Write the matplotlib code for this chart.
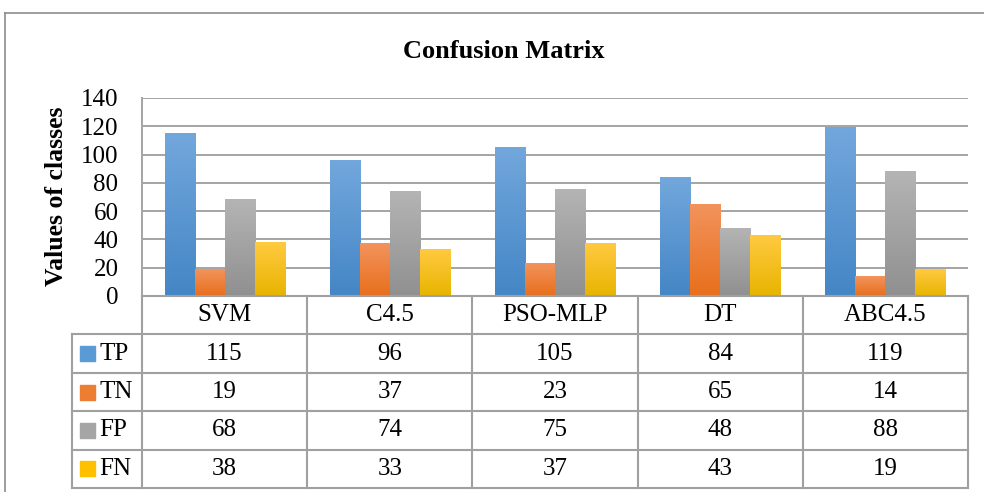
import numpy as np
import matplotlib
matplotlib.use("Agg")
import matplotlib.pyplot as plt
from matplotlib.colors import LinearSegmentedColormap
from matplotlib.patches import Rectangle
from matplotlib.lines import Line2D

# data
models = ["SVM", "C4.5", "PSO-MLP", "DT", "ABC4.5"]
series = ["TP", "TN", "FP", "FN"]
tp = [115, 96, 105, 84, 119]
tn = [19, 37, 23, 65, 14]
fp = [68, 74, 75, 48, 88]
fn = [38, 33, 37, 43, 19]
values = [tp, tn, fp, fn]
yticks = [0, 20, 40, 60, 80, 100, 120, 140]

# (top, bottom) gradient colours per series
grads = [("#72a7dc", "#4486c6"),
         ("#f2935c", "#e86f1c"),
         ("#b4b4b4", "#909090"),
         ("#ffca40", "#e8b400")]
mids = ["#5b9bd5", "#ed7d31", "#a5a5a5", "#ffc000"]

plt.rcParams["font.family"] = ["Liberation Serif", "DejaVu Serif"]

W, H = 984, 492
fig = plt.figure(figsize=(W / 100, H / 100), dpi=100)


def fy(py):
    return 1 - py / H


grid_col = "#a4a4a4"
line_col = "#a0a0a0"

# chart area
ax = fig.add_axes([142 / W, fy(296), (968 - 142) / W, (296 - 98) / H])
x = np.arange(len(models))
width = 0.1816
for i, vals in enumerate(values):
    bars = ax.bar(x + (i - 1.5) * width, vals, width, color=mids[i], zorder=2)
    cmap = LinearSegmentedColormap.from_list("g%d" % i, [grads[i][1], grads[i][0]])
    for b in bars:
        x0, h = b.get_x(), b.get_height()
        ax.imshow(np.linspace(0, 1, 100).reshape(-1, 1), cmap=cmap, origin="lower",
                  extent=[x0, x0 + b.get_width(), 0, h], aspect="auto", zorder=3)
        b.set_visible(False)

ax.set_xlim(-0.5, len(models) - 0.5)
ax.set_ylim(0, 140)
ax.set_yticks(yticks)
ax.set_xticks([])
ax.yaxis.grid(True, color=grid_col, linewidth=1.4, zorder=0)
ax.set_axisbelow(True)
for s in ["top", "right", "bottom"]:
    ax.spines[s].set_visible(False)
ax.spines["left"].set_color(grid_col)
ax.spines["left"].set_linewidth(1.4)
ax.tick_params(axis="y", length=0, pad=17, labelsize=18)

# data table below the chart
tab = fig.add_axes([142 / W, fy(488), (968 - 142) / W, (488 - 296) / H])
tab.set_xlim(-0.5, len(models) - 0.5)
tab.set_ylim(5, 0)
tab.axis("off")
px = 826 / len(models)  # pixels per column
x_left = -0.5 - 70 / px
row_px = 192 / 5

lk = dict(color=line_col, linewidth=1.5, clip_on=False, solid_capstyle="projecting")
for c in range(len(models) + 1):
    tab.plot([c - 0.5, c - 0.5], [0, 5], **lk)
tab.plot([-0.5, len(models) - 0.5], [0, 0], **lk)
for r in range(1, 6):
    tab.plot([x_left, len(models) - 0.5], [r, r], **lk)
tab.plot([x_left, x_left], [1, 5], **lk)

for j, m in enumerate(models):
    tab.text(j, 0.5, m, ha="center", va="center", fontsize=18)

sq_w = 15 / px
sq_h = 15 / row_px
for i, name in enumerate(series):
    r = i + 1
    tab.add_patch(Rectangle((x_left + 8 / px, r + 0.5 - sq_h / 2), sq_w, sq_h,
                            color=mids[i], clip_on=False))
    tab.text(x_left + 27 / px, r + 0.5, name, ha="left", va="center", fontsize=18)
    for j, v in enumerate(values[i]):
        tab.text(j, r + 0.5, str(v), ha="center", va="center", fontsize=18)

fig.text(504 / W, fy(51), "Confusion Matrix", ha="center", va="center",
         fontsize=19, fontweight="bold")
fig.text(57 / W, fy(196), "Values of classes", ha="center", va="center",
         rotation=90, fontsize=18.5, fontweight="bold")

# outer chart border
fig.add_artist(Line2D([5 / W, 5 / W], [0, fy(13)], color="#8c8c8c", linewidth=1.2))
fig.add_artist(Line2D([5 / W, 1], [fy(13), fy(13)], color="#8c8c8c", linewidth=1.2))

fig.savefig("out.png", dpi=100)
